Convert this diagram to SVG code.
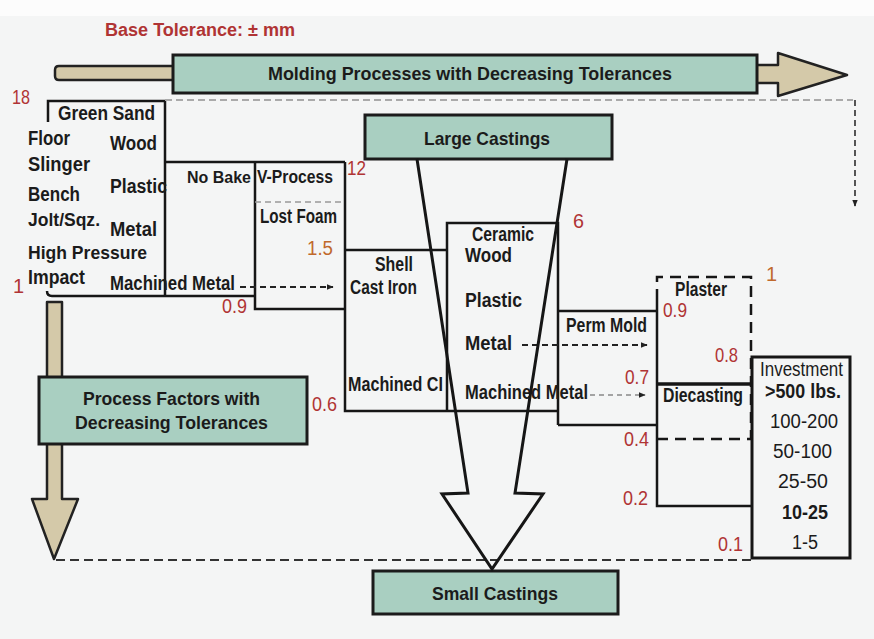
<svg xmlns="http://www.w3.org/2000/svg" width="874" height="639" viewBox="0 0 874 639">
<defs>
<style>
text{font-family:"Liberation Sans Narrow","Liberation Sans",Arial,sans-serif;font-weight:bold;fill:#1b1b1b;font-size:20px}
.r{fill:#b03434;font-weight:normal}
.o{fill:#c0692c;font-weight:normal}
.n{font-weight:normal}
.h{font-size:19px}
.teal{fill:#a9cfc1;stroke:#1b1b1b;stroke-width:3}
.tan{fill:#d4c9a9;stroke:#222;stroke-width:2.5;stroke-linejoin:round}
.ln{fill:none;stroke:#161616;stroke-width:2.5}
.dl{fill:none;stroke:#161616;stroke-width:2.5;stroke-dasharray:11,7}
.da{fill:none;stroke:#222;stroke-width:1.8;stroke-dasharray:6,4}
.dg{fill:none;stroke:#999;stroke-width:1.5;stroke-dasharray:6,4}
</style>
<marker id="ah" viewBox="0 0 10 10" refX="9" refY="5" markerWidth="7" markerHeight="7" orient="auto" markerUnits="userSpaceOnUse">
<path d="M0,1 L10,5 L0,9 z" fill="#222"/>
</marker>
</defs>
<rect width="874" height="639" fill="#f4f5f5"/>
<rect width="874" height="16" fill="#fcfcfc"/>

<g id="title">
<text class="r" x="105" y="36" textLength="190" lengthAdjust="spacingAndGlyphs" style="font-weight:bold;font-size:18px">Base Tolerance: ± mm</text>
</g>

<g id="molding-arrow">
<path class="tan" d="M59,66 H176 V80 H59 Q55,80 55,76 V70 Q55,66 59,66 Z"/>
<path class="tan" d="M755,65 H778 V53 L847,75 L778,96 V83 H755 Z"/>
<rect class="teal" x="173" y="55" width="584" height="38"/>
<text class="h" x="268" y="80" textLength="404" lengthAdjust="spacingAndGlyphs">Molding Processes with Decreasing Tolerances</text>
</g>

<g id="process-arrow">
<path class="tan" d="M47,302 H62 V499 H78 L54,559 L32,499 H47 Z"/>
<rect class="teal" x="39" y="377" width="268" height="67"/>
<text class="h" x="83" y="405" textLength="177" lengthAdjust="spacingAndGlyphs">Process Factors with</text>
<text class="h" x="75" y="429" textLength="193" lengthAdjust="spacingAndGlyphs">Decreasing Tolerances</text>
</g>

<g id="green-sand">
<path class="ln" d="M48,122 V101 H165 V296"/>
<path class="ln" d="M47,291 Q47,296 52,296 H255"/>
<text x="58" y="120" textLength="97" lengthAdjust="spacingAndGlyphs">Green Sand</text>
<text x="28" y="145" textLength="42" lengthAdjust="spacingAndGlyphs">Floor</text>
<text x="110" y="150" textLength="47" lengthAdjust="spacingAndGlyphs">Wood</text>
<text x="28" y="171" textLength="62" lengthAdjust="spacingAndGlyphs">Slinger</text>
<text x="110" y="193" textLength="57" lengthAdjust="spacingAndGlyphs">Plastic</text>
<text x="28" y="201" textLength="52" lengthAdjust="spacingAndGlyphs">Bench</text>
<text x="28" y="226" textLength="72" lengthAdjust="spacingAndGlyphs" style="font-size:19px">Jolt/Sqz.</text>
<text x="110" y="236" textLength="47" lengthAdjust="spacingAndGlyphs">Metal</text>
<text x="28" y="259" textLength="119" lengthAdjust="spacingAndGlyphs" style="font-size:18px">High Pressure</text>
<text x="28" y="284" textLength="57" lengthAdjust="spacingAndGlyphs">Impact</text>
<text x="110" y="290" textLength="125" lengthAdjust="spacingAndGlyphs">Machined Metal</text>
<text class="r" x="12" y="104" textLength="18" lengthAdjust="spacingAndGlyphs">18</text>
<text class="r" x="13" y="293">1</text>
</g>

<g id="no-bake">
<path class="ln" d="M165,162 H345"/>
<text x="187" y="183" textLength="64" lengthAdjust="spacingAndGlyphs" style="font-size:17px">No Bake</text>
</g>

<g id="v-process">
<path class="ln" d="M255,162 V309 H345"/>
<path class="dg" d="M255,202 H345"/>
<text x="257" y="183" textLength="76" lengthAdjust="spacingAndGlyphs" style="font-size:18px">V-Process</text>
<text x="260" y="223" textLength="77" lengthAdjust="spacingAndGlyphs">Lost Foam</text>
<text class="o" x="307" y="255" textLength="26" lengthAdjust="spacingAndGlyphs">1.5</text>
<text class="r" x="222" y="313" textLength="25" lengthAdjust="spacingAndGlyphs">0.9</text>
<text class="r" x="347" y="175" textLength="19" lengthAdjust="spacingAndGlyphs">12</text>
</g>

<g id="shell">
<path class="ln" d="M345,162 V411 H558"/>
<path class="ln" d="M345,250 H447"/>
<text x="375" y="271" textLength="38" lengthAdjust="spacingAndGlyphs">Shell</text>
<text x="350" y="294" textLength="67" lengthAdjust="spacingAndGlyphs">Cast Iron</text>
<text x="348" y="391" textLength="95" lengthAdjust="spacingAndGlyphs">Machined CI</text>
<text class="r" x="312" y="411" textLength="25" lengthAdjust="spacingAndGlyphs">0.6</text>
</g>

<g id="ceramic">
<path class="ln" d="M447,411 V223 H558 V425"/>
<text x="472" y="241" textLength="62" lengthAdjust="spacingAndGlyphs">Ceramic</text>
<text x="465" y="262" textLength="47" lengthAdjust="spacingAndGlyphs">Wood</text>
<text x="465" y="307" textLength="57" lengthAdjust="spacingAndGlyphs">Plastic</text>
<text x="465" y="350" textLength="47" lengthAdjust="spacingAndGlyphs">Metal</text>
<text x="465" y="399" textLength="123" lengthAdjust="spacingAndGlyphs">Machined Metal</text>
<text class="r" x="573" y="228" textLength="11" lengthAdjust="spacingAndGlyphs">6</text>
</g>

<g id="perm-mold">
<path class="ln" d="M558,311 H657 M558,425 H657"/>
<text x="566" y="332" textLength="81" lengthAdjust="spacingAndGlyphs">Perm Mold</text>
<text class="r" x="625" y="384" textLength="24" lengthAdjust="spacingAndGlyphs">0.7</text>
<text class="r" x="624" y="446" textLength="25" lengthAdjust="spacingAndGlyphs">0.4</text>
<text class="r" x="623" y="505" textLength="25" lengthAdjust="spacingAndGlyphs">0.2</text>
</g>

<g id="plaster">
<path class="dl" d="M657,300 V277 H751 V439"/>
<path class="ln" d="M657,300 V506 H752"/>
<text x="675" y="296" textLength="52" lengthAdjust="spacingAndGlyphs">Plaster</text>
<text class="r" x="663" y="317" textLength="24" lengthAdjust="spacingAndGlyphs">0.9</text>
<text class="r" x="715" y="362" textLength="23" lengthAdjust="spacingAndGlyphs">0.8</text>
<text class="o" x="766" y="281">1</text>
</g>

<g id="diecasting">
<path d="M657,384 H751" stroke="#161616" stroke-width="3.5" fill="none"/>
<path class="dl" d="M657,439 H751"/>
<text x="663" y="402" textLength="80" lengthAdjust="spacingAndGlyphs">Diecasting</text>
</g>

<g id="investment">
<rect x="752" y="357" width="98" height="201" fill="none" stroke="#161616" stroke-width="3"/>
<text class="n" x="760" y="376" textLength="83" lengthAdjust="spacingAndGlyphs">Investment</text>
<text x="765" y="398" textLength="76" lengthAdjust="spacingAndGlyphs">&gt;500 lbs.</text>
<text class="n" x="770" y="428" textLength="68" lengthAdjust="spacingAndGlyphs">100-200</text>
<text class="n" x="773" y="458" textLength="59" lengthAdjust="spacingAndGlyphs">50-100</text>
<text class="n" x="778" y="488" textLength="50" lengthAdjust="spacingAndGlyphs">25-50</text>
<text x="782" y="519" textLength="46" lengthAdjust="spacingAndGlyphs">10-25</text>
<text class="n" x="792" y="549" textLength="26" lengthAdjust="spacingAndGlyphs">1-5</text>
<text class="r" x="718" y="551" textLength="25" lengthAdjust="spacingAndGlyphs">0.1</text>
</g>

<g id="large-castings">
<rect class="teal" x="365" y="115" width="247" height="44"/>
<text class="h" x="424" y="145" textLength="126" lengthAdjust="spacingAndGlyphs">Large Castings</text>
</g>

<g id="small-castings">
<rect class="teal" x="373" y="571" width="245" height="43"/>
<text class="h" x="432" y="600" textLength="126" lengthAdjust="spacingAndGlyphs">Small Castings</text>
</g>

<g id="connectors">
<path d="M165,100 H853" fill="none" stroke="#aaa" stroke-width="1.8" stroke-dasharray="7,4"/>
<path d="M855,100 V206" fill="none" stroke="#444" stroke-width="1.8" stroke-dasharray="6,4" marker-end="url(#ah)"/>
<path d="M56,560 H752" fill="none" stroke="#333" stroke-width="1.8" stroke-dasharray="9,5"/>
<path class="da" d="M240,287 H333" marker-end="url(#ah)"/>
<path class="da" d="M522,345 H647" marker-end="url(#ah)"/>
<path d="M590,395 H645" fill="none" stroke="#888" stroke-width="1.5" stroke-dasharray="5,4" marker-end="url(#ah)"/>
<path d="M417,159 L468,493 L442,494 L492,569 L543,494 L515,493 L567,159" fill="none" stroke="#161616" stroke-width="3" stroke-linejoin="miter"/>
</g>
</svg>
